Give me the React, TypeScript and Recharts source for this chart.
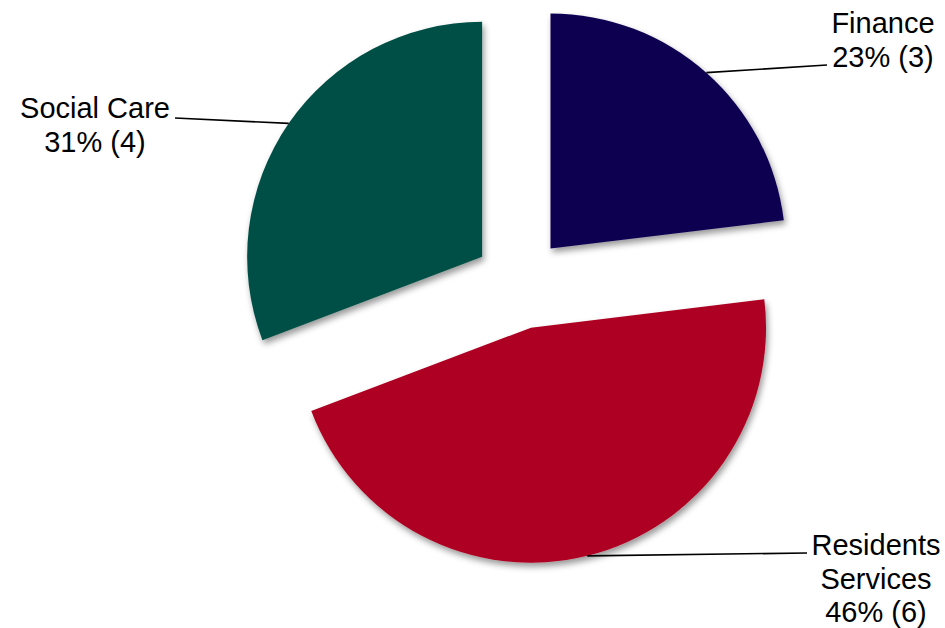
import React from 'react';
import { PieChart, Pie, Cell } from 'recharts';

const categories = ['Finance', 'Residents Services', 'Social Care'];
const counts = [3, 6, 4];
const colors = ['#0F0051', '#AE0022', '#005046'];
const labelLines = [['Finance'], ['Residents', 'Services'], ['Social Care']];

const W = 945;
const H = 628;
const CX = 520;
const CY = 283;
const R = 235;
const EXPLODE = 46;
const FONT = 'Liberation Sans, Arial, sans-serif';
const FS = 29;
const LH = 33.5;

const data = categories.map((name, i) => ({ name, value: counts[i] }));
const total = counts.reduce((a, b) => a + b, 0);

// label placement: leader line end point, text centre x, first baseline y
const labelLayout: Record<string, { ex: number; ey: number; tx: number; ty: number }> = {
  Finance: { ex: 827, ey: 65, tx: 883, ty: 33 },
  'Residents Services': { ex: 807, ey: 553, tx: 876, ty: 555 },
  'Social Care': { ex: 175, ey: 118, tx: 95, ty: 118 },
};

const RAD = Math.PI / 180;

function sliceCenter(i: number) {
  const before = counts.slice(0, i).reduce((a, b) => a + b, 0);
  const mid = ((before + counts[i] / 2) / total) * 360; // clockwise from top
  return {
    x: CX + EXPLODE * Math.sin(mid * RAD),
    y: CY - EXPLODE * Math.cos(mid * RAD),
  };
}

function makeLabel(visible: number) {
  return (props: any) => {
    const { index, cx, cy, midAngle, outerRadius, percent, value } = props;
    if (index !== visible) return null;
    const name = categories[index];
    const lay = labelLayout[name];
    const sx = cx + outerRadius * Math.cos(-midAngle * RAD);
    const sy = cy + outerRadius * Math.sin(-midAngle * RAD);
    const lines = [...labelLines[index], `${Math.round(percent * 100)}% (${value})`];
    return (
      <g key={`lbl-${index}`}>
        <line x1={sx} y1={sy} x2={lay.ex} y2={lay.ey} stroke="#000" strokeWidth={1.6} />
        {lines.map((t, k) => (
          <text
            key={k}
            x={lay.tx}
            y={lay.ty + k * LH}
            textAnchor="middle"
            fontFamily={FONT}
            fontSize={FS}
            fill="#000"
          >
            {t}
          </text>
        ))}
      </g>
    );
  };
}

export default function App() {
  return (
    <div style={{ position: 'absolute', left: 0, top: 0, width: W, height: H, background: '#fff' }}>
      <svg width={0} height={0} style={{ position: 'absolute' }}>
        <defs>
          <filter id="pieShadow" x="-20%" y="-20%" width="140%" height="140%">
            <feDropShadow dx={2} dy={4} stdDeviation={3} floodColor="#000" floodOpacity={0.4} />
          </filter>
        </defs>
      </svg>
      <PieChart width={W} height={H} margin={{ top: 0, right: 0, bottom: 0, left: 0 }}>
        {categories.map((cat, vi) => {
          const c = sliceCenter(vi);
          return (
            <Pie
              key={cat}
              data={data}
              dataKey="value"
              nameKey="name"
              cx={c.x}
              cy={c.y}
              outerRadius={R}
              innerRadius={0}
              startAngle={90}
              endAngle={-270}
              stroke="none"
              isAnimationActive={false}
              labelLine={false}
              label={makeLabel(vi)}
            >
              {data.map((d, i) => (
                <Cell
                  key={d.name}
                  fill={i === vi ? colors[i] : 'transparent'}
                  stroke="none"
                  filter={i === vi ? 'url(#pieShadow)' : undefined}
                />
              ))}
            </Pie>
          );
        })}
      </PieChart>
    </div>
  );
}
